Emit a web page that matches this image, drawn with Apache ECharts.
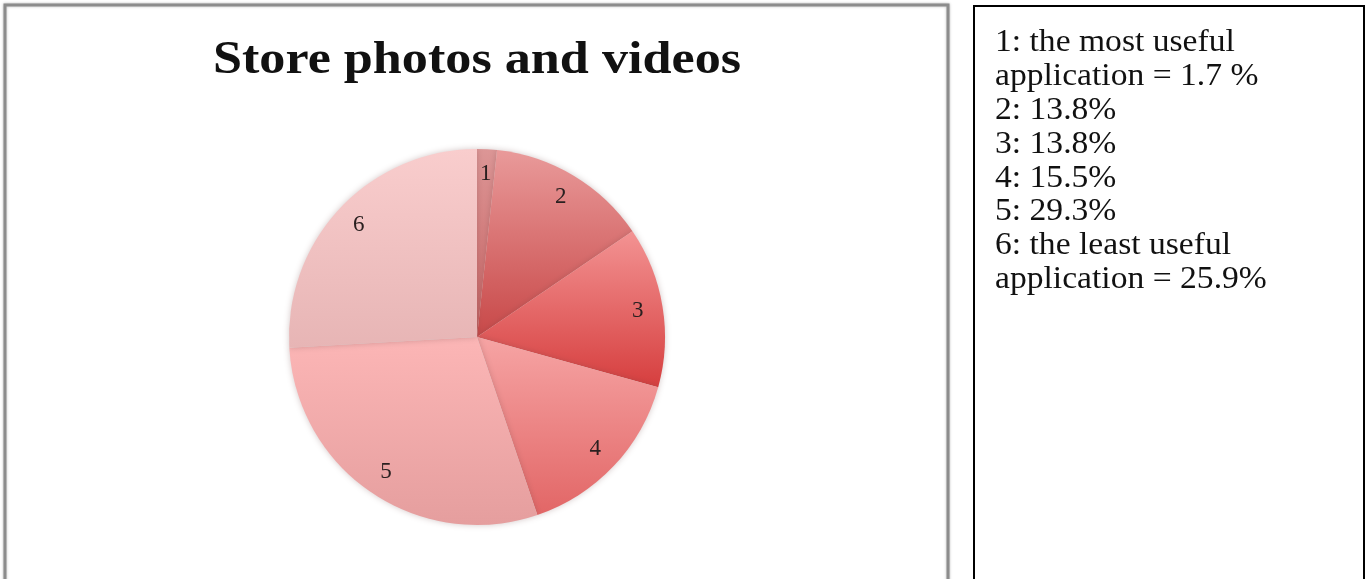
<!DOCTYPE html>
<html>
<head>
<meta charset="utf-8">
<title>Store photos and videos</title>
<script src="https://cdn.jsdelivr.net/npm/echarts@6/dist/echarts.min.js"></script>
<style>
  html, body { margin: 0; padding: 0; background: #ffffff; }
  #chart { width: 1369px; height: 579px; }
</style>
</head>
<body>
<div id="chart"></div>
<script>
// Usefulness ranking (1 = most useful, 6 = least useful), share of answers in %
const categories = ['1', '2', '3', '4', '5', '6'];
const shares = [1.7, 13.8, 13.8, 15.5, 29.3, 25.9];
const titleText = 'Store photos and videos';
const noteLines = [
  '1: the most useful',
  'application = 1.7 %',
  '2: 13.8%',
  '3: 13.8%',
  '4: 15.5%',
  '5: 29.3%',
  '6: the least useful',
  'application = 25.9%'
];

// light (top) -> dark (bottom) shade for each slice
const sliceShades = [
  ['#dc9696', '#c96262'],
  ['#e99a9a', '#c84848'],
  ['#f39393', '#d63e3e'],
  ['#f6a4a4', '#e26666'],
  ['#fcb6b6', '#e59e9e'],
  ['#f9cdcd', '#e7b5b5']
];

const chart = echarts.init(document.getElementById('chart'), null, { renderer: 'canvas' });

const cx = 477, cy = 337, R = 188;

const fillData = categories.map((c, i) => ({
  name: c,
  value: shares[i],
  itemStyle: {
    color: new echarts.graphic.LinearGradient(0, 0, 0, 1, [
      { offset: 0, color: sliceShades[i][0] },
      { offset: 1, color: sliceShades[i][1] }
    ])
  }
}));
const labelData = categories.map((c, i) => ({ name: c, value: shares[i] }));

const option = {
  backgroundColor: '#ffffff',
  animation: false,
  graphic: [
    // chart frame on the left
    {
      type: 'rect', silent: true, z: 0,
      shape: { x: 5, y: 5, width: 943, height: 600 },
      style: { fill: '#ffffff', stroke: '#8c8c8c', lineWidth: 3,
               shadowBlur: 3, shadowColor: 'rgba(0,0,0,0.25)' }
    },
    {
      type: 'text', silent: true, z: 10,
      x: 477, y: 37,
      scaleX: 1.11,
      style: {
        text: titleText,
        align: 'center', verticalAlign: 'top',
        font: 'bold 47px "Liberation Serif", "DejaVu Serif", serif',
        fill: '#111111'
      }
    },
    // note box on the right
    {
      type: 'rect', silent: true, z: 0,
      shape: { x: 974, y: 6, width: 390, height: 600 },
      style: { fill: '#ffffff', stroke: '#000000', lineWidth: 2 }
    },
    {
      type: 'text', silent: true, z: 10,
      x: 995, y: 26,
      scaleX: 1.05,
      style: {
        text: noteLines.join('\n'),
        align: 'left', verticalAlign: 'top',
        font: '32px "Liberation Serif", "DejaVu Serif", serif',
        lineHeight: 33.8,
        fill: '#111111'
      }
    }
  ],
  series: [
    {
      type: 'pie',
      center: [cx, cy],
      radius: [0, R],
      startAngle: 90,
      clockwise: true,
      silent: true,
      z: 2,
      label: { show: false },
      labelLine: { show: false },
      itemStyle: {
        borderWidth: 0,
        shadowBlur: 6,
        shadowColor: 'rgba(110,70,70,0.30)'
      },
      data: fillData
    },
    {
      // transparent ring that carries the slice numbers near the rim
      type: 'pie',
      center: [cx, cy],
      radius: [R * 0.70, R],
      startAngle: 90,
      clockwise: true,
      silent: true,
      z: 3,
      itemStyle: { color: 'rgba(0,0,0,0)', borderWidth: 0 },
      label: {
        show: true,
        position: 'inside',
        formatter: '{b}',
        fontFamily: '"Liberation Serif", "DejaVu Serif", serif',
        fontSize: 23,
        color: '#2a2020'
      },
      labelLine: { show: false },
      data: labelData
    }
  ]
};

chart.setOption(option);
</script>
</body>
</html>
